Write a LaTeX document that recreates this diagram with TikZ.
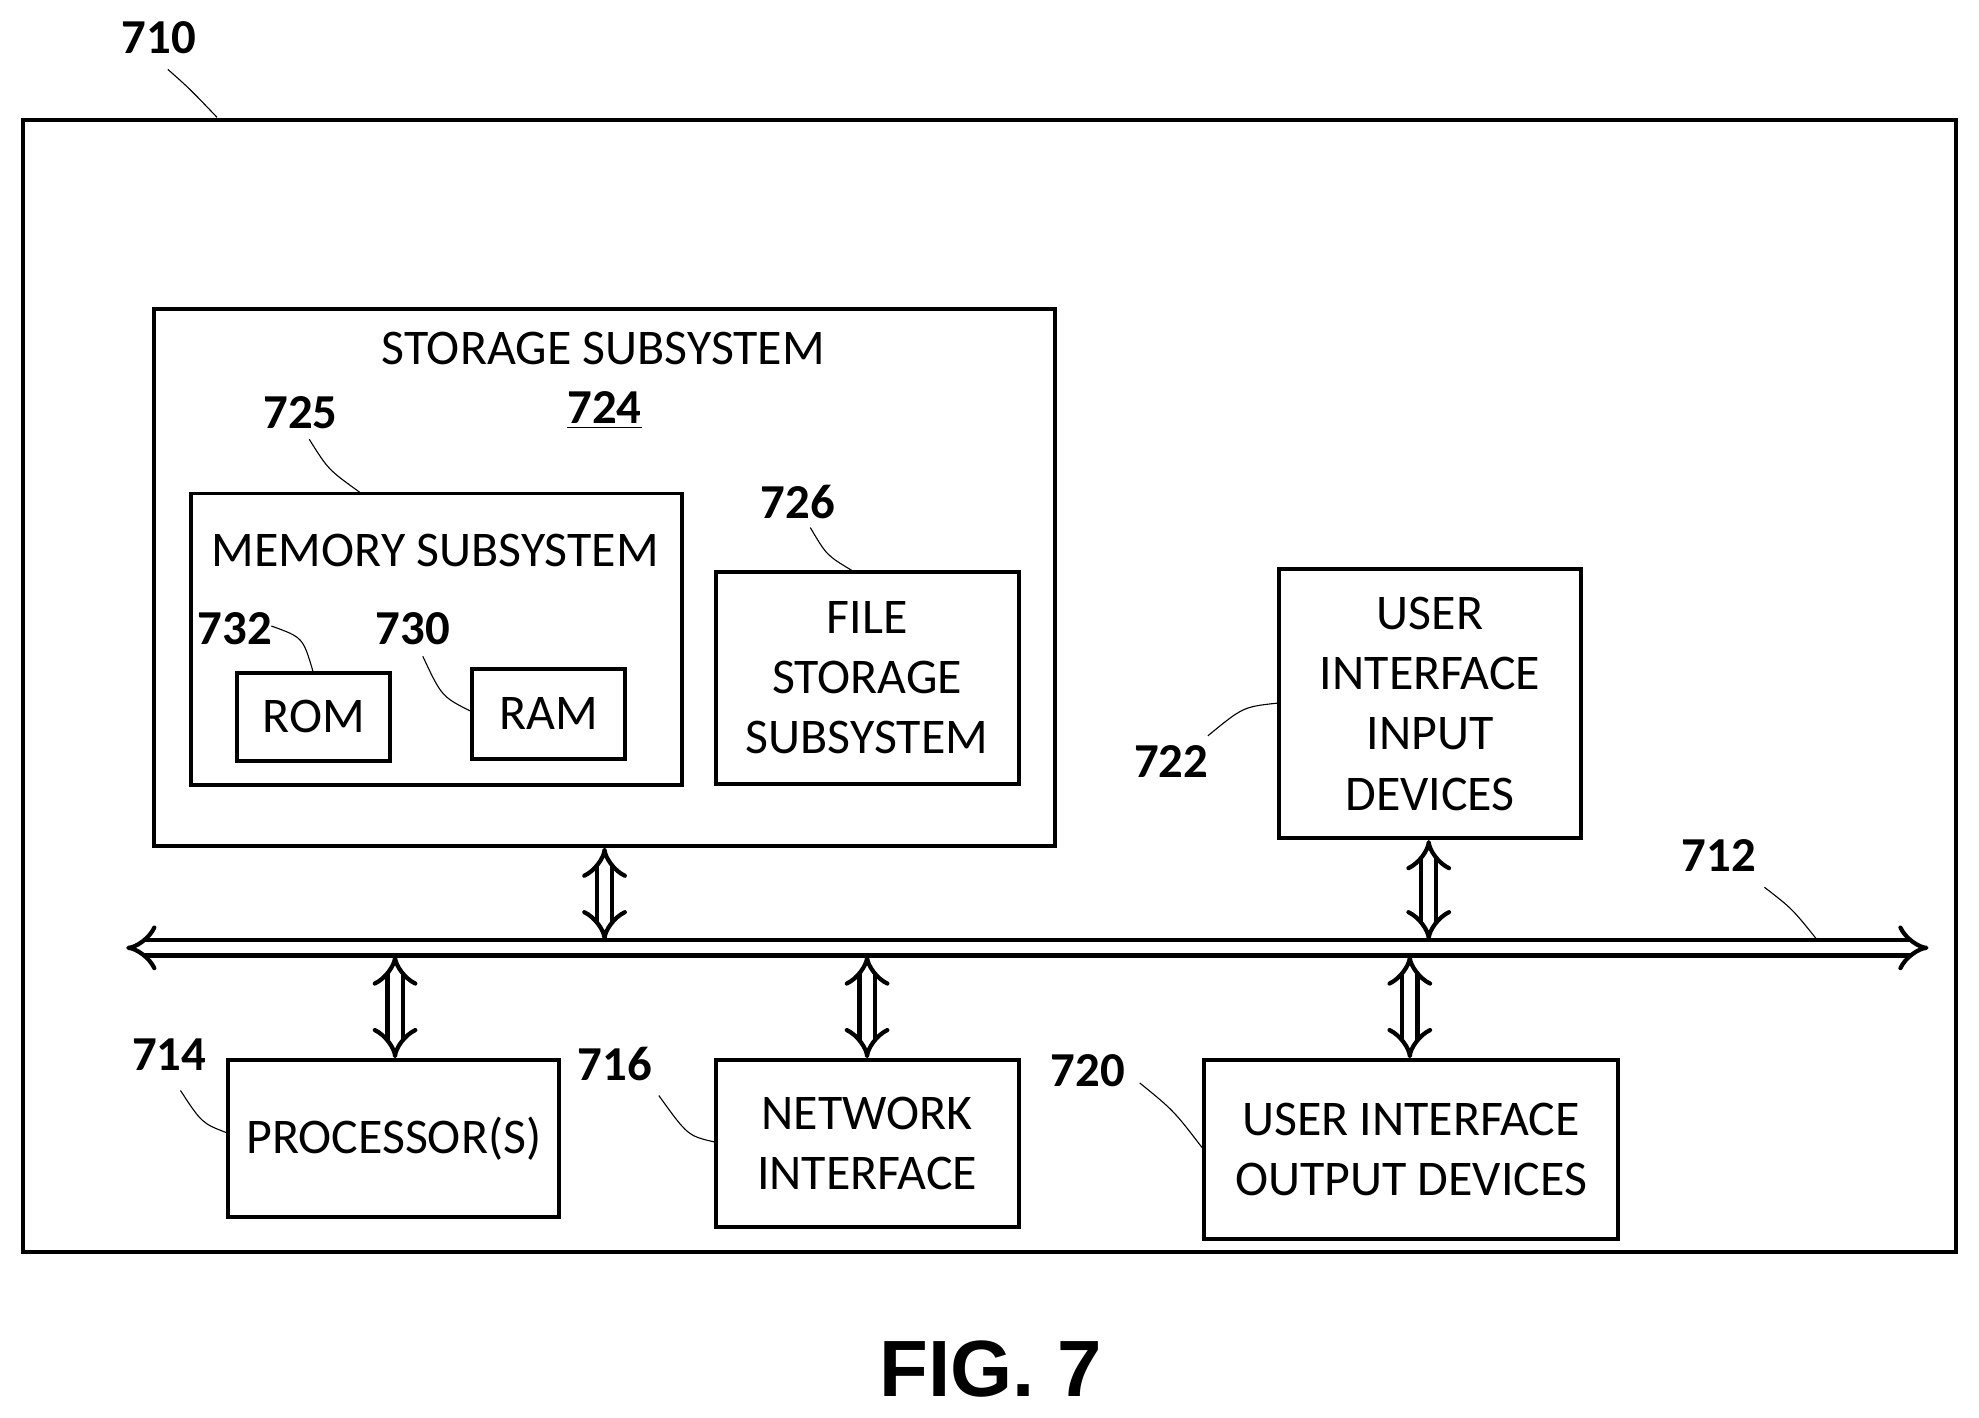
\documentclass[tikz,border=0pt]{standalone}
\usepackage{fontspec}
\setmainfont{Carlito}
\newfontfamily\figfont{Liberation Sans}
\usetikzlibrary{arrows.meta}
\begin{document}
\begin{tikzpicture}[x=0.02cm,y=-0.02cm,
  box/.style={draw,line width=1.8pt,rectangle,inner sep=0pt,align=center,font=\fontsize{22.5}{27.2}\selectfont},
  num/.style={font=\bfseries\fontsize{22}{24}\selectfont},
  lead/.style={line width=0.5pt},
  dbl/.style={double,double distance=5pt,line width=1.9pt,{Implies[]}-{Implies[]}}]
\useasboundingbox (0,0) rectangle (1568,1123);
\node[box,minimum width=1532*0.02cm,minimum height=897*0.02cm] (outer) at (784,543.5) {};
\node[box,minimum width=714*0.02cm,minimum height=425*0.02cm] (storage) at (479,457.5) {};
\node[font=\fontsize{22.5}{26}\selectfont] (st) at (478,276) {STORAGE SUBSYSTEM};
\node[num] (n724) at (479,325) {\underline{724}};
\node[box,minimum width=389*0.02cm,minimum height=231*0.02cm] (mem) at (345.5,506.5) {};
\node[font=\fontsize{22.5}{26}\selectfont] (mt) at (345,436) {MEMORY SUBSYSTEM};
\node[box,minimum width=121*0.02cm,minimum height=70*0.02cm] (rom) at (248.5,568) {ROM};
\node[box,minimum width=121*0.02cm,minimum height=71*0.02cm] (ram) at (434.5,565.5) {RAM};
\node[box,minimum width=240*0.02cm,minimum height=168*0.02cm] (file) at (687,537) {FILE\\STORAGE\\SUBSYSTEM};
\node[box,minimum width=240*0.02cm,minimum height=213*0.02cm] (uin) at (1133,557.5) {USER\\INTERFACE\\INPUT\\DEVICES};
\node[box,minimum width=262*0.02cm,minimum height=124*0.02cm] (proc) at (312,902) {PROCESSOR(S)};
\node[box,minimum width=240*0.02cm,minimum height=132*0.02cm] (net) at (687,906) {NETWORK\\INTERFACE};
\node[box,minimum width=328*0.02cm,minimum height=142*0.02cm] (uout) at (1118,911) {USER INTERFACE\\OUTPUT DEVICES};
% bus
\coordinate (busL) at (100,751);
\coordinate (busR) at (1528,751);
\draw[dbl] (busL) -- (busR);
\coordinate (b1) at (479,745);
\coordinate (b2) at (1132,745);
\coordinate (b3) at (313,757);
\coordinate (b4) at (687,757);
\coordinate (b5) at (1117,757);
\draw[dbl] (storage.south -| b1) -- (b1);
\draw[dbl] (uin.south -| b2) -- (b2);
\draw[dbl] (b3) -- (proc.north -| b3);
\draw[dbl] (b4) -- (net.north -| b4);
\draw[dbl] (b5) -- (uout.north -| b5);
% labels
\node[num] (n710) at (126,30) {710};
\draw[lead] (133,55) .. controls (150,70) .. (172,93);
\node[num] (n725) at (238,327) {725};
\draw[lead] (245,348) .. controls (260,372) .. (285,390);
\node[num] (n732) at (186,498) {732};
\draw[lead] (215,496) .. controls (240,505) .. (248,532);
\node[num] (n730) at (327,498) {730};
\draw[lead] (335,520) .. controls (350,552) .. (374,564);
\node[num] (n726) at (632,398) {726};
\draw[lead] (642,418) .. controls (655,440) .. (675,452);
\node[num] (n722) at (928,603) {722};
\draw[lead] (957,583) .. controls (985,560) .. (1013,557);
\node[num] (n712) at (1362,678) {712};
\draw[lead] (1398,703) .. controls (1420,720) .. (1440,745);
\node[num] (n714) at (134,836) {714};
\draw[lead] (143,864) .. controls (160,890) .. (181,898);
\node[num] (n716) at (487,843) {716};
\draw[lead] (522,868) .. controls (545,900) .. (567,905);
\node[num] (n720) at (862,848) {720};
\draw[lead] (903,858) .. controls (930,880) .. (953,910);
\node[font=\figfont\bfseries\fontsize{36}{40}\selectfont] (fig) at (785,1085) {FIG. 7};
\end{tikzpicture}
\end{document}
